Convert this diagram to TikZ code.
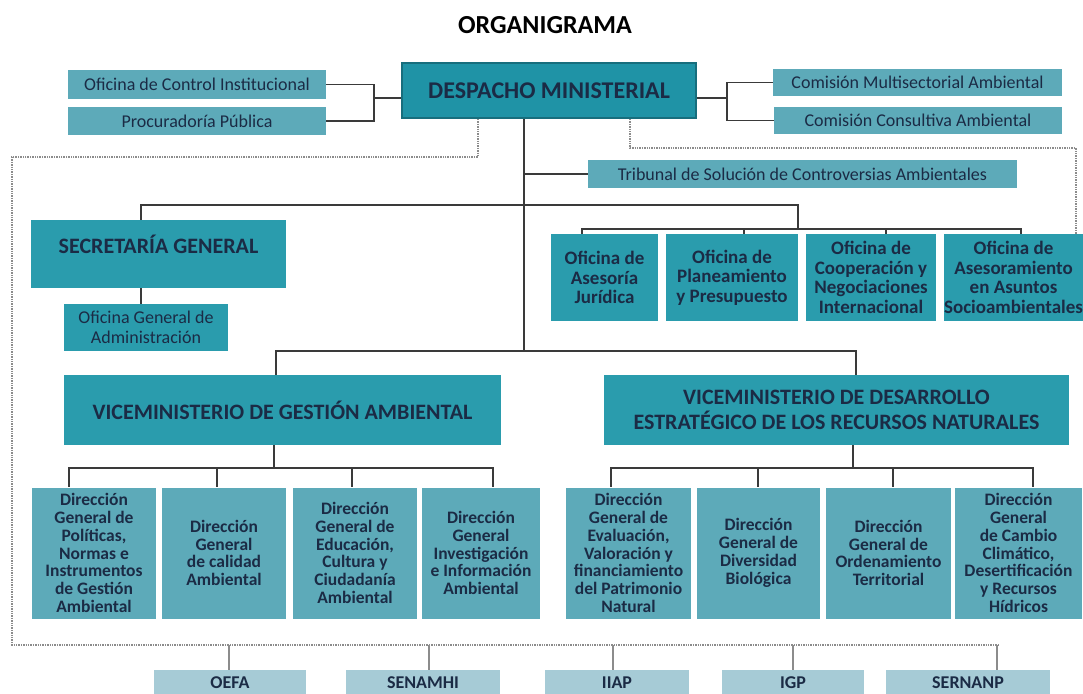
\documentclass[tikz,border=0pt]{standalone}
\usepackage{fontspec}
\setmainfont{Carlito}
\definecolor{ink}{HTML}{1B2B45}
\definecolor{tealdark}{HTML}{1F93A6}
\definecolor{tealmid}{HTML}{2A9CAD}
\definecolor{teallight}{HTML}{5DAAB9}
\definecolor{tealpale}{HTML}{A6CBD6}
\definecolor{wire}{HTML}{3A3A3A}
\definecolor{dotwire}{HTML}{8C8C8C}

\begin{document}
\begin{tikzpicture}[x=1pt,y=-1pt,
    box/.style={rectangle, inner sep=0pt, align=center, text=ink},
    headbox/.style={box, fill=tealmid, font=\bfseries\fontsize{22}{25}\selectfont},
    subbox/.style={box, fill=teallight, font=\fontsize{18}{20}\selectfont},
    offbox/.style={box, fill=tealmid, font=\bfseries\fontsize{19}{19.5}\selectfont},
    dirbox/.style={box, fill=teallight, font=\bfseries\fontsize{17.5}{17.8}\selectfont},
    orgbox/.style={box, fill=tealpale, font=\bfseries\fontsize{18}{18}\selectfont},
    link/.style={draw=wire, line width=1.6pt},
    dotlink/.style={draw=dotwire, line width=1.4pt, densely dotted}]
    \useasboundingbox (0,0) rectangle (1083,693);

    \node[font=\bfseries\fontsize{26}{28}\selectfont] (title) at (545,25) {ORGANIGRAMA};

    \node[headbox, fill=tealdark, draw=tealdark!75!black, line width=2pt,
      font=\bfseries\fontsize{24}{26}\selectfont,
      minimum width=294, minimum height=55] (des) at (549,90.5) {DESPACHO MINISTERIAL};
    \node[subbox, minimum width=258, minimum height=29] (oci) at (197,84.5) {Oficina de Control Institucional};
    \node[subbox, minimum width=258, minimum height=28] (proc) at (197,121) {Procuradoría Pública};
    \node[subbox, minimum width=289, minimum height=27] (cma) at (917.5,82.5) {Comisión Multisectorial Ambiental};
    \node[subbox, minimum width=288, minimum height=27] (cca) at (918,120.5) {Comisión Consultiva Ambiental};
    \node[subbox, minimum width=429, minimum height=28] (trib) at (802.5,174) {Tribunal de Solución de Controversias Ambientales};

    \node[headbox, minimum width=255, minimum height=68, text depth=20pt] (sg) at (158.5,254) {SECRETARÍA GENERAL};
    \node[subbox, fill=tealmid, minimum width=164, minimum height=47] (oga) at (146,327.5) {Oficina General de\\Administración};

    \node[offbox, minimum width=107, minimum height=87] (of1) at (604.5,277.5) {Oficina de\\Asesoría\\Jurídica};
    \node[offbox, minimum width=132, minimum height=87] (of2) at (732,277.5) {Oficina de\\Planeamiento\\y Presupuesto};
    \node[offbox, minimum width=130, minimum height=87] (of3) at (871,277.5) {Oficina de\\Cooperación y\\Negociaciones\\Internacional};
    \node[offbox, minimum width=139, minimum height=87] (of4) at (1013.5,277.5) {Oficina de\\Asesoramiento\\en Asuntos\\Socioambientales};

    \node[headbox, minimum width=437, minimum height=70] (vg) at (282.5,410) {VICEMINISTERIO DE GESTIÓN AMBIENTAL};
    \node[headbox, minimum width=465, minimum height=70] (vd) at (836.5,410) {VICEMINISTERIO DE DESARROLLO\\ESTRATÉGICO DE LOS RECURSOS NATURALES};

    \node[dirbox, minimum width=124, minimum height=131] (dl1) at (94,553) {Dirección\\General de\\Políticas,\\Normas e\\Instrumentos\\de Gestión\\Ambiental};
    \node[dirbox, minimum width=124, minimum height=131] (dl2) at (224,553) {Dirección\\General\\de calidad\\Ambiental};
    \node[dirbox, minimum width=124, minimum height=131] (dl3) at (355,553) {Dirección\\General de\\Educación,\\Cultura y\\Ciudadanía\\Ambiental};
    \node[dirbox, minimum width=118, minimum height=131] (dl4) at (481,553) {Dirección\\General\\Investigación\\e Información\\Ambiental};
    \node[dirbox, minimum width=125, minimum height=131] (dr1) at (628.5,553) {Dirección\\General de\\Evaluación,\\Valoración y\\financiamiento\\del Patrimonio\\Natural};
    \node[dirbox, minimum width=123, minimum height=131] (dr2) at (758.5,553) {Dirección\\General de\\Diversidad\\Biológica};
    \node[dirbox, minimum width=125, minimum height=131] (dr3) at (888.5,553) {Dirección\\General de\\Ordenamiento\\Territorial};
    \node[dirbox, minimum width=127, minimum height=131] (dr4) at (1018.5,553) {Dirección\\General\\de Cambio\\Climático,\\Desertificación\\y Recursos\\Hídricos};

    \node[orgbox, minimum width=152, minimum height=25] (oefa) at (230,682.5) {OEFA};
    \node[orgbox, minimum width=154, minimum height=25] (senamhi) at (423,682.5) {SENAMHI};
    \node[orgbox, minimum width=144, minimum height=25] (iiap) at (617,682.5) {IIAP};
    \node[orgbox, minimum width=142, minimum height=25] (igp) at (793,682.5) {IGP};
    \node[orgbox, minimum width=164, minimum height=25] (sernanp) at (968,682.5) {SERNANP};

    \coordinate (jl) at (374,98);
    \coordinate (jr) at (727,98);
    \draw[link] (oci.east) -| (jl) |- (proc.east);
    \draw[link] (jl) -- (jl -| des.west);
    \draw[link] (cma.west) -| (jr) |- (cca.west);
    \draw[link] (jr) -- (jr -| des.east);

    \coordinate (m1) at (524,205);
    \coordinate (m2) at (524,351);
    \draw[link] (des.south -| m1) -- (m2);
    \draw[link] (m1 |- trib) -- (trib.west);

    \coordinate (sgtap) at (141,205);
    \coordinate (ofdrop) at (798,205);
    \coordinate (ofbar) at (798,229);
    \draw[link] (sgtap |- sg.north) -- (sgtap) -- (ofdrop) -- (ofbar);
    \draw[link] (sgtap |- sg.south) -- (sgtap |- oga.north);
    \foreach \n/\x in {of1/582,of2/744,of3/886,of4/1021} {
      \coordinate (tap) at (\x,229);
      \draw[link] (ofbar) -- (tap) -- (tap |- \n.north);
    }

    \coordinate (vgtap) at (276,351);
    \coordinate (vdtap) at (856,351);
    \draw[link] (vgtap |- vg.north) -- (vgtap) -- (vdtap) -- (vdtap |- vd.north);

    \coordinate (dlbar) at (274,468);
    \coordinate (drbar) at (853,468);
    \draw[link] (dlbar |- vg.south) -- (dlbar);
    \draw[link] (drbar |- vd.south) -- (drbar);
    \foreach \n/\x in {dl1/69,dl2/217,dl3/352,dl4/493} {
      \coordinate (tap) at (\x,468);
      \draw[link] (dlbar) -- (tap) -- (tap |- \n.north);
    }
    \foreach \n/\x in {dr1/611,dr2/758,dr3/893,dr4/1033} {
      \coordinate (tap) at (\x,468);
      \draw[link] (drbar) -- (tap) -- (tap |- \n.north);
    }

    \coordinate (d1) at (478,157);
    \coordinate (d2) at (12,157);
    \coordinate (d3) at (12,645);
    \coordinate (d4) at (998,645);
    \draw[dotlink] (d1 |- des.south) -- (d1) -- (d2) -- (d3) -- (d4);
    \foreach \n/\x in {oefa/229,senamhi/429,iiap/613,igp/793,sernanp/997} {
      \coordinate (tap) at (\x,645);
      \draw[draw=dotwire, line width=1.4pt] (tap) -- (tap |- \n.north);
    }

    \coordinate (e1) at (630,148);
    \coordinate (e2) at (1076,148);
    \draw[dotlink] (e1 |- des.south) -- (e1) -- (e2) -- (e2 |- of4.north);
\end{tikzpicture}
\end{document}
